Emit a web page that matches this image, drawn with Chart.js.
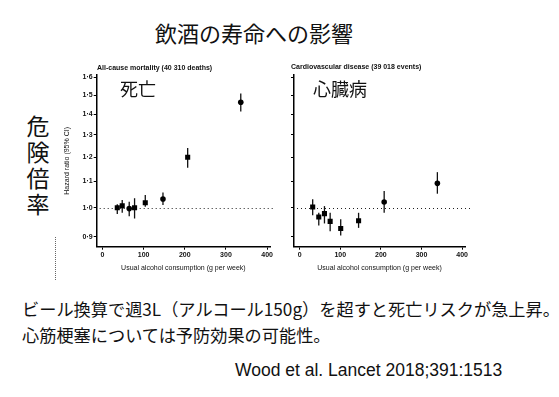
<!DOCTYPE html>
<html>
<head>
<meta charset="utf-8">
<script src="https://cdn.jsdelivr.net/npm/chart.js@4"></script>
<style>
  body { margin: 0; background: #fff; width: 559px; height: 397px; overflow: hidden; position: relative; font-family: "Noto Sans CJK JP", sans-serif; }
  .abs { position: absolute; white-space: nowrap; color: #111; }
  canvas { position: absolute; }
</style>
</head>
<body>
<div class="abs" style="left:155px; top:18px; font-size:22px; line-height:28px;">飲酒の寿命への影響</div>
<div class="abs" style="left:26px; top:112px; font-size:23px; line-height:26px; text-align:center; white-space:normal; width:24px;">危<br>険<br>倍<br>率</div>
<div class="abs" style="left:55px; top:237px; height:43px; border-left:1px dotted #666;"></div>

<canvas id="allCause" width="230" height="220" style="left:50px; top:60px;"></canvas>
<canvas id="cardio" width="195" height="220" style="left:280px; top:60px;"></canvas>

<div class="abs" style="left:97px; top:64px; font:bold 7px 'Liberation Sans', sans-serif;">All-cause mortality (40 310 deaths)</div>
<div class="abs" style="left:291px; top:63px; font:bold 7px 'Liberation Sans', sans-serif;">Cardiovascular disease (39 018 events)</div>
<div class="abs" style="left:120px; top:76px; font-size:18px; line-height:24px;">死亡</div>
<div class="abs" style="left:313px; top:76px; font-size:18px; line-height:24px;">心臓病</div>

<div class="abs" style="left:22px; top:296px; font-size:17.2px; line-height:26px;">ビール換算で週3L（アルコール150g）を超すと死亡リスクが急上昇。<br>心筋梗塞については予防効果の可能性。</div>
<div class="abs" style="left:235px; top:359px; font-size:17.5px; line-height:22px; font-family:'Liberation Sans', sans-serif;">Wood et al. Lancet 2018;391:1513</div>

<script>
// consumption (g per week) and hazard ratios with 95% CI
const allX = [36, 48, 65, 78, 104, 147, 207, 336];
const allHR = [1.00, 1.007, 0.997, 1.00, 1.018, 1.032, 1.20, 1.463];
const allLo = [0.978, 0.982, 0.97, 0.962, 1.004, 1.01, 1.155, 1.415];
const allHi = [1.013, 1.028, 1.022, 1.035, 1.047, 1.057, 1.24, 1.51];

const cvdX = [32, 47, 61, 75, 101, 145, 208, 339];
const cvdHR = [1.003, 0.967, 0.979, 0.952, 0.928, 0.954, 1.021, 1.092];
const cvdLo = [0.973, 0.938, 0.945, 0.919, 0.905, 0.93, 0.982, 1.052];
const cvdHi = [1.031, 0.982, 1.006, 0.982, 0.959, 0.982, 1.062, 1.137];

const xTicks = [0, 100, 200, 300, 400];
const yTicks = [0.9, 1.0, 1.1, 1.2, 1.3, 1.4, 1.5, 1.6];
const yTickLabels = ['0·9', '1·0', '1·1', '1·2', '1·3', '1·4', '1·5', '1·6'];

const allShapes = ['rect', 'rect', 'circle', 'rect', 'rect', 'circle', 'rect', 'circle'];
const cvdShapes = ['rect', 'rect', 'rect', 'rect', 'rect', 'rect', 'circle', 'circle'];

const tickFont = { family: 'Liberation Sans', size: 7, weight: 'bold' };

// error bars + dotted line at HR 1.0
const ciPlugin = {
    id: 'ciBars',
    beforeDatasetsDraw(chart) {
        const ctx = chart.ctx;
        const x = chart.scales.x, y = chart.scales.y;
        const area = chart.chartArea;
        ctx.save();
        ctx.strokeStyle = '#222';
        ctx.lineWidth = 1;
        ctx.setLineDash([1, 3]);
        const y1 = Math.round(y.getPixelForValue(1.0)) + 0.5;
        ctx.beginPath();
        ctx.moveTo(area.left + 3, y1);
        ctx.lineTo(area.right + 5, y1);
        ctx.stroke();
        ctx.setLineDash([]);
        const opts = chart.options.plugins.ciBars;
        ctx.lineWidth = 1.3;
        ctx.strokeStyle = '#111';
        opts.xs.forEach(function (v, i) {
            const px = x.getPixelForValue(v);
            ctx.beginPath();
            ctx.moveTo(px, y.getPixelForValue(opts.lo[i]));
            ctx.lineTo(px, y.getPixelForValue(opts.hi[i]));
            ctx.stroke();
        });
        ctx.restore();
    }
};

function makePanel(id, xs, hr, lo, hi, shapes, withLabels, yWidth, padLeft) {
    const ctx = document.getElementById(id).getContext('2d');
    return new Chart(ctx, {
        type: 'scatter',
        data: {
            datasets: [{
                data: xs.map(function (v, i) { return { x: v, y: hr[i] }; }),
                backgroundColor: '#000',
                borderColor: '#000',
                borderWidth: 0,
                pointStyle: shapes,
                pointRadius: shapes.map(function (s) { return s === 'rect' ? 3.6 : 2.8; })
            }]
        },
        options: {
            responsive: false,
            animation: false,
            layout: { padding: { top: 15, right: 10, left: padLeft, bottom: 0 } },
            plugins: {
                legend: { display: false },
                tooltip: { enabled: false },
                ciBars: { xs: xs, lo: lo, hi: hi }
            },
            scales: {
                x: {
                    type: 'linear',
                    min: -14,
                    max: 407,
                    afterBuildTicks: function (s) { s.ticks = xTicks.map(function (v) { return { value: v }; }); },
                    afterFit: function (s) { s.height = 33.3; },
                    ticks: { font: tickFont, color: '#111', padding: 1, maxRotation: 0, autoSkip: false },
                    grid: { drawOnChartArea: false, drawTicks: true, tickLength: 3, color: '#000', lineWidth: 1 },
                    border: { color: '#000', width: 1.5 },
                    title: {
                        display: true,
                        text: 'Usual alcohol consumption (g per week)',
                        font: { family: 'Liberation Sans', size: 7 },
                        color: '#111',
                        padding: { top: 2, bottom: 8 }
                    }
                },
                y: {
                    type: 'logarithmic',
                    min: 0.869,
                    max: 1.614,
                    afterBuildTicks: function (s) { s.ticks = yTicks.map(function (v) { return { value: v }; }); },
                    afterFit: function (s) { s.width = yWidth; },
                    ticks: {
                        font: tickFont,
                        color: '#111',
                        padding: 1,
                        autoSkip: false,
                        callback: function (v, i) { return withLabels ? yTickLabels[i] : ''; }
                    },
                    grid: { drawOnChartArea: false, drawTicks: true, tickLength: 3, color: '#000', lineWidth: 1 },
                    border: { color: '#000', width: 1.5 },
                    title: {
                        display: withLabels,
                        text: 'Hazard ratio (95% CI)',
                        font: { family: 'Liberation Sans', size: 7 },
                        color: '#111',
                        padding: { top: 3, bottom: 0 }
                    }
                }
            }
        },
        plugins: [ciPlugin]
    });
}

makePanel('allCause', allX, allHR, allLo, allHi, allShapes, true, 36.7, 10);
makePanel('cardio', cvdX, cvdHR, cvdLo, cvdHi, cvdShapes, false, 14, 0);
</script>
</body>
</html>
